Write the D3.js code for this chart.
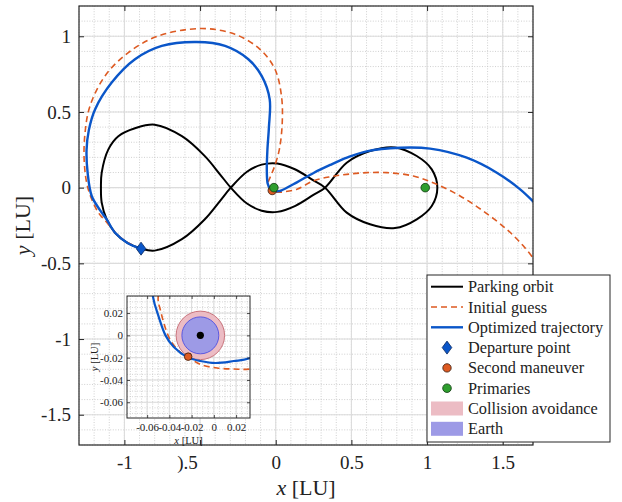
<!DOCTYPE html>
<html><head><meta charset="utf-8">
<script src="https://cdn.jsdelivr.net/npm/d3@7"></script>
<style>
body{margin:0;background:#fff}
svg{display:block}
text{font-family:"Liberation Serif","Times New Roman",serif;fill:#222}
</style>
</head><body>
<svg id="c" width="622" height="502"></svg>
<script>
// ---------- data ----------
const xTicks = [-1, -0.5, 0, 0.5, 1, 1.5];
const xTickLabels = ["-1", ").5", "0", "0.5", "1", "1.5"];
const yTicks = [-1.5, -1, -0.5, 0, 0.5, 1];
const yTickLabels = ["-1.5", "-1", "-0.5", "0", "0.5", "1"];

const parkingOrbit = [
  [-1.155,0],[-1.15,0.099],[-1.106,0.253],[-1.04,0.34],[-0.93,0.392],[-0.80,0.416],
  [-0.62,0.34],[-0.47,0.21],[-0.37,0.09],[-0.297,0],[-0.19,-0.105],[-0.093,-0.152],
  [0.01,-0.16],[0.13,-0.12],[0.249,-0.048],[0.326,0],[0.469,0.165],[0.623,0.242],
  [0.788,0.266],[0.932,0.209],[1.031,0.121],[1.068,0],[1.031,-0.121],[0.932,-0.209],
  [0.788,-0.267],[0.623,-0.242],[0.469,-0.165],[0.326,0],[0.249,0.048],[0.13,0.12],
  [0.01,0.16],[-0.093,0.152],[-0.19,0.105],[-0.297,0],[-0.37,-0.09],[-0.47,-0.21],
  [-0.62,-0.34],[-0.80,-0.416],[-0.89,-0.403],[-0.98,-0.365],[-1.06,-0.30],[-1.117,-0.21],[-1.15,-0.099]
];

const initialGuess = [
  [-0.890,-0.403],[-0.98,-0.362],[-1.06,-0.298],[-1.12,-0.225],[-1.172,-0.165],[-1.239,-0.011],
  [-1.265,0.165],[-1.26,0.363],[-1.227,0.54],[-1.128,0.738],[-0.974,0.892],[-0.776,1.002],
  [-0.489,1.051],[-0.269,1.013],[-0.104,0.914],[-0.005,0.782],[0.038,0.605],[0.043,0.43],
  [0.024,0.253],[-0.008,0.14],[-0.036,0.07],[-0.050,0.035],[-0.048,0.0224],[-0.039,-0.0045],
  [-0.0285,-0.0164],[-0.0231,-0.0195],[-0.0121,-0.026],[0.003,-0.0293],[0.018,-0.0302],
  [0.033,-0.0302],[0.14,-0.01],[0.25,0.045],[0.36,0.072],[0.47,0.088],[0.60,0.099],
  [0.734,0.099],[0.909,0.077],[1.064,0.022],[1.218,-0.055],[1.372,-0.155],[1.527,-0.276],
  [1.637,-0.386],[1.72,-0.49]
];

const optimized = [
  [-0.890,-0.403],[-0.98,-0.365],[-1.06,-0.30],[-1.117,-0.21],[-1.16,-0.15],[-1.216,-0.055],
  [-1.243,0.099],[-1.25,0.25],[-1.235,0.38],[-1.194,0.517],[-1.084,0.694],[-0.93,0.848],
  [-0.753,0.936],[-0.522,0.962],[-0.335,0.936],[-0.181,0.848],[-0.093,0.738],[-0.040,0.584],
  [-0.045,0.40],[-0.055,0.25],[-0.059,0.121],[-0.055,0.036],[-0.0495,0.0164],[-0.0435,0],
  [-0.036,-0.0105],[-0.024,-0.0195],[-0.0121,-0.023],[0.0013,-0.0248],[0.0178,-0.023],
  [0.0327,-0.0204],[0.14,0.035],[0.25,0.097],[0.36,0.15],[0.47,0.198],[0.60,0.24],
  [0.822,0.264],[1.02,0.258],[1.262,0.198],[1.461,0.099],[1.615,-0.011],[1.72,-0.11]
];

const departurePoint = [-0.89, -0.403];
const secondManeuver = [-0.0231, -0.0191];
const primaries = [[-0.01215, 0], [0.98785, 0]];
const earthCenter = [-0.01215, 0];
const earthRadius = 0.0166;
const avoidRadius = 0.0218;

const insetXTicks = [-0.06, -0.04, -0.02, 0, 0.02];
const insetXTickLabels = ["-0.06", "-0.04", "-0.02", "0", "0.02"];
const insetYTicks = [-0.06, -0.04, -0.02, 0, 0.02];
const insetYTickLabels = ["-0.06", "-0.04", "-0.02", "0", "0.02"];

const legendLabels = ["Parking orbit","Initial guess","Optimized trajectory","Departure point",
  "Second maneuver","Primaries","Collision avoidance","Earth"];

// ---------- styles ----------
const C = {
  black:"#000000", blue:"#0a56c9", orange:"#dd5a22", green:"#2e9e2e",
  avoidFill:"#ecbcc4", avoidStroke:"#c46a72", earthFill:"#9d9ae6", earthStroke:"#4f4fe0",
  axis:"#262626", major:"#dcdcdc", minor:"#c4c4c4"
};

(function(){
const svg = d3.select("#c");
const defs = svg.append("defs");

// ---------- main axes ----------
const M = {l:79, r:533, t:6, b:445};
const x = d3.scaleLinear().domain([-1.3, 1.7]).range([M.l, M.r]);
const y = d3.scaleLinear().domain([-1.7, 1.2]).range([M.b, M.t]);

defs.append("clipPath").attr("id","mclip").append("rect")
  .attr("x",M.l).attr("y",M.t).attr("width",M.r-M.l).attr("height",M.b-M.t);

const g = svg.append("g");
g.append("rect").attr("x",M.l).attr("y",M.t).attr("width",M.r-M.l).attr("height",M.b-M.t).attr("fill","#fff");

const grid = g.append("g");
grid.selectAll(".mx").data(x.ticks(30)).join("line")
  .attr("x1",d=>x(d)).attr("x2",d=>x(d)).attr("y1",M.t).attr("y2",M.b)
  .attr("stroke",C.minor).attr("stroke-width",0.8).attr("stroke-dasharray","1,1.6");
grid.selectAll(".my").data(y.ticks(29)).join("line")
  .attr("y1",d=>y(d)).attr("y2",d=>y(d)).attr("x1",M.l).attr("x2",M.r)
  .attr("stroke",C.minor).attr("stroke-width",0.8).attr("stroke-dasharray","1,1.6");
grid.selectAll(".Mx").data(xTicks).join("line")
  .attr("x1",d=>x(d)).attr("x2",d=>x(d)).attr("y1",M.t).attr("y2",M.b)
  .attr("stroke",C.major).attr("stroke-width",1.1);
grid.selectAll(".My").data(yTicks).join("line")
  .attr("y1",d=>y(d)).attr("y2",d=>y(d)).attr("x1",M.l).attr("x2",M.r)
  .attr("stroke",C.major).attr("stroke-width",1.1);

const curve = d3.curveCatmullRom.alpha(0.5);
const line = d3.line().x(d=>x(d[0])).y(d=>y(d[1])).curve(curve);
const lineClosed = d3.line().x(d=>x(d[0])).y(d=>y(d[1])).curve(d3.curveCatmullRomClosed.alpha(0.5));

const plot = g.append("g").attr("clip-path","url(#mclip)");
plot.append("path").datum(parkingOrbit).attr("d",lineClosed)
  .attr("fill","none").attr("stroke",C.black).attr("stroke-width",2);
plot.append("path").datum(initialGuess).attr("d",line)
  .attr("fill","none").attr("stroke",C.orange).attr("stroke-width",1.6).attr("stroke-dasharray","6,4");
plot.append("path").datum(optimized).attr("d",line)
  .attr("fill","none").attr("stroke",C.blue).attr("stroke-width",2.4);

function diamond(sel, cx, cy){
  sel.append("path").attr("d",`M${cx},${cy-6.5}L${cx+4.8},${cy}L${cx},${cy+6.5}L${cx-4.8},${cy}Z`)
    .attr("fill",C.blue).attr("stroke","#0b2a5e").attr("stroke-width",0.8);
}
diamond(plot, x(departurePoint[0]), y(departurePoint[1]));
plot.append("circle").attr("cx",x(secondManeuver[0])).attr("cy",y(secondManeuver[1])).attr("r",4.2)
  .attr("fill",C.orange).attr("stroke","#3a1a0a").attr("stroke-width",0.8);
plot.selectAll(".prim").data(primaries).join("circle")
  .attr("cx",d=>x(d[0])).attr("cy",d=>y(d[1])).attr("r",4.3)
  .attr("fill",C.green).attr("stroke","#103a10").attr("stroke-width",0.8);

const ax = g.append("g");
const axB = ax.append("g").attr("transform",`translate(0,${M.b})`)
  .call(d3.axisBottom(x).tickValues(xTicks).tickSize(-5).tickPadding(11)
    .tickFormat((d,i)=>xTickLabels[i]));
axB.selectAll("text").attr("dx",(d,i)=>xTickLabels[i].startsWith(")") ? -13 : 0);
ax.append("g").attr("transform",`translate(0,${M.t})`)
  .call(d3.axisTop(x).tickValues(xTicks).tickSize(-5).tickFormat(""));
ax.append("g").attr("transform",`translate(${M.l},0)`)
  .call(d3.axisLeft(y).tickValues(yTicks).tickSize(-5).tickPadding(8)
    .tickFormat((d,i)=>yTickLabels[i]));
ax.append("g").attr("transform",`translate(${M.r},0)`)
  .call(d3.axisRight(y).tickValues(yTicks).tickSize(-5).tickFormat(""));
ax.selectAll(".domain").remove();
ax.selectAll(".tick line").attr("stroke",C.axis).attr("stroke-width",1);
ax.selectAll(".tick text").attr("font-size",19).attr("fill","#222")
  .style("font-family","'Liberation Serif',serif");
g.append("rect").attr("x",M.l).attr("y",M.t).attr("width",M.r-M.l).attr("height",M.b-M.t)
  .attr("fill","none").attr("stroke",C.axis).attr("stroke-width",1.2);

const xl = svg.append("text").attr("x",(M.l+M.r)/2).attr("y",495).attr("text-anchor","middle").attr("font-size",22);
xl.append("tspan").attr("font-style","italic").text("x");
xl.append("tspan").text(" [LU]");
const yl = svg.append("text").attr("transform",`translate(30,${(M.t+M.b)/2}) rotate(-90)`)
  .attr("text-anchor","middle").attr("font-size",22);
yl.append("tspan").attr("font-style","italic").text("y");
yl.append("tspan").text(" [LU]");

// ---------- inset ----------
const I = {l:127, r:250, t:296, b:418};
const xi = d3.scaleLinear().domain([-0.0781, 0.0325]).range([I.l, I.r]);
const yi = d3.scaleLinear().domain([-0.0741, 0.0353]).range([I.b, I.t]);
defs.append("clipPath").attr("id","iclip").append("rect")
  .attr("x",I.l).attr("y",I.t).attr("width",I.r-I.l).attr("height",I.b-I.t);
const gi = svg.append("g");
gi.append("rect").attr("x",I.l).attr("y",I.t).attr("width",I.r-I.l).attr("height",I.b-I.t).attr("fill","#fff");
const igrid = gi.append("g").attr("clip-path","url(#iclip)");
igrid.selectAll(".mx").data(xi.ticks(22)).join("line")
  .attr("x1",d=>xi(d)).attr("x2",d=>xi(d)).attr("y1",I.t).attr("y2",I.b)
  .attr("stroke",C.minor).attr("stroke-width",0.7).attr("stroke-dasharray","1,1.5");
igrid.selectAll(".my").data(yi.ticks(22)).join("line")
  .attr("y1",d=>yi(d)).attr("y2",d=>yi(d)).attr("x1",I.l).attr("x2",I.r)
  .attr("stroke",C.minor).attr("stroke-width",0.7).attr("stroke-dasharray","1,1.5");
igrid.selectAll(".Mx").data(insetXTicks).join("line")
  .attr("x1",d=>xi(d)).attr("x2",d=>xi(d)).attr("y1",I.t).attr("y2",I.b)
  .attr("stroke",C.major).attr("stroke-width",1);
igrid.selectAll(".My").data(insetYTicks).join("line")
  .attr("y1",d=>yi(d)).attr("y2",d=>yi(d)).attr("x1",I.l).attr("x2",I.r)
  .attr("stroke",C.major).attr("stroke-width",1);

const iplot = gi.append("g").attr("clip-path","url(#iclip)");
const kx = (I.r-I.l)/(xi.domain()[1]-xi.domain()[0]);
iplot.append("circle").attr("cx",xi(earthCenter[0])).attr("cy",yi(earthCenter[1]))
  .attr("r",avoidRadius*kx).attr("fill",C.avoidFill).attr("stroke",C.avoidStroke).attr("stroke-width",0.9);
iplot.append("circle").attr("cx",xi(earthCenter[0])).attr("cy",yi(earthCenter[1]))
  .attr("r",earthRadius*kx).attr("fill",C.earthFill).attr("stroke",C.earthStroke).attr("stroke-width",0.9);
const iline = d3.line().x(d=>xi(d[0])).y(d=>yi(d[1])).curve(curve);
iplot.append("path").datum(initialGuess).attr("d",iline)
  .attr("fill","none").attr("stroke",C.orange).attr("stroke-width",1.6).attr("stroke-dasharray","6,4");
iplot.append("path").datum(optimized).attr("d",iline)
  .attr("fill","none").attr("stroke",C.blue).attr("stroke-width",2.2);
iplot.append("circle").attr("cx",xi(earthCenter[0])).attr("cy",yi(earthCenter[1])).attr("r",3.6).attr("fill","#000");
iplot.append("circle").attr("cx",xi(secondManeuver[0])).attr("cy",yi(secondManeuver[1])).attr("r",3.8)
  .attr("fill",C.orange).attr("stroke","#3a1a0a").attr("stroke-width",0.8);

const iax = gi.append("g");
iax.append("g").attr("transform",`translate(0,${I.b})`)
  .call(d3.axisBottom(xi).tickValues(insetXTicks).tickSize(-3).tickPadding(5)
    .tickFormat((d,i)=>insetXTickLabels[i]));
iax.append("g").attr("transform",`translate(${I.l},0)`)
  .call(d3.axisLeft(yi).tickValues(insetYTicks).tickSize(-3).tickPadding(4)
    .tickFormat((d,i)=>insetYTickLabels[i]));
iax.append("g").attr("transform",`translate(0,${I.t})`)
  .call(d3.axisTop(xi).tickValues(insetXTicks).tickSize(-3).tickFormat(""));
iax.append("g").attr("transform",`translate(${I.r},0)`)
  .call(d3.axisRight(yi).tickValues(insetYTicks).tickSize(-3).tickFormat(""));
iax.selectAll(".domain").remove();
iax.selectAll(".tick line").attr("stroke",C.axis).attr("stroke-width",0.8);
iax.selectAll(".tick text").attr("font-size",11).attr("fill","#222")
  .style("font-family","'Liberation Serif',serif");
gi.append("rect").attr("x",I.l).attr("y",I.t).attr("width",I.r-I.l).attr("height",I.b-I.t)
  .attr("fill","none").attr("stroke",C.axis).attr("stroke-width",1);
const ixl = svg.append("text").attr("x",(I.l+I.r)/2).attr("y",444).attr("text-anchor","middle").attr("font-size",10.5);
ixl.append("tspan").attr("font-style","italic").text("x");
ixl.append("tspan").text(" [LU]");
const iyl = svg.append("text").attr("transform",`translate(98,${(I.t+I.b)/2}) rotate(-90)`)
  .attr("text-anchor","middle").attr("font-size",10.5);
iyl.append("tspan").attr("font-style","italic").text("y");
iyl.append("tspan").text(" [LU]");

// ---------- legend ----------
const L = {x:427, y:275, w:183, h:167, row0:286.7, dy:20.3};
const lg = svg.append("g");
lg.append("rect").attr("x",L.x).attr("y",L.y).attr("width",L.w).attr("height",L.h)
  .attr("fill","#fff").attr("stroke",C.axis).attr("stroke-width",1);
const sx0 = L.x+4, sx1 = L.x+36, sxm = (sx0+sx1)/2;
legendLabels.forEach((lab,i)=>{
  const cy = L.row0 + i*L.dy;
  if(i===0) lg.append("line").attr("x1",sx0).attr("x2",sx1).attr("y1",cy).attr("y2",cy).attr("stroke",C.black).attr("stroke-width",2);
  if(i===1) lg.append("line").attr("x1",sx0).attr("x2",sx1).attr("y1",cy).attr("y2",cy).attr("stroke",C.orange).attr("stroke-width",1.6).attr("stroke-dasharray","6,4");
  if(i===2) lg.append("line").attr("x1",sx0).attr("x2",sx1).attr("y1",cy).attr("y2",cy).attr("stroke",C.blue).attr("stroke-width",2.4);
  if(i===3) diamond(lg, sxm, cy);
  if(i===4) lg.append("circle").attr("cx",sxm).attr("cy",cy).attr("r",4.2).attr("fill",C.orange).attr("stroke","#3a1a0a").attr("stroke-width",0.8);
  if(i===5) lg.append("circle").attr("cx",sxm).attr("cy",cy).attr("r",4.3).attr("fill",C.green).attr("stroke","#103a10").attr("stroke-width",0.8);
  if(i===6) lg.append("rect").attr("x",sx0).attr("y",cy-7).attr("width",sx1-sx0).attr("height",14).attr("fill",C.avoidFill);
  if(i===7) lg.append("rect").attr("x",sx0).attr("y",cy-7).attr("width",sx1-sx0).attr("height",14).attr("fill",C.earthFill);
  lg.append("text").attr("x",L.x+41).attr("y",cy+5.5).attr("font-size",16.3).text(lab);
});
})();
</script>
</body></html>
